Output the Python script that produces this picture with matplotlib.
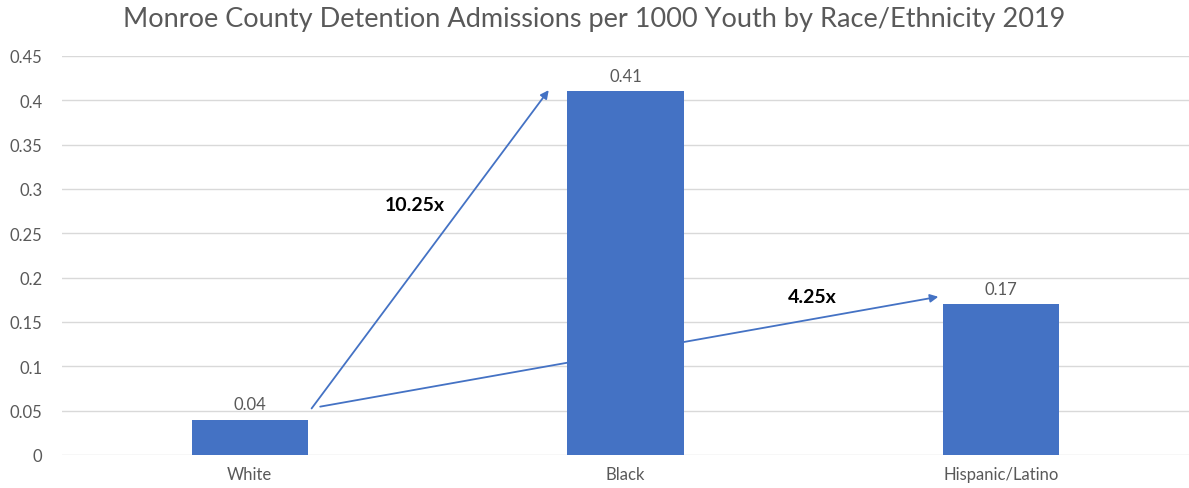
import matplotlib.pyplot as plt
import numpy as np

categories = ['White', 'Black', 'Hispanic/Latino']
values = [0.04, 0.41, 0.17]
yticks = [0, 0.05, 0.1, 0.15, 0.2, 0.25, 0.3, 0.35, 0.4, 0.45]
ytick_labels = ['0', '0.05', '0.1', '0.15', '0.2', '0.25', '0.3', '0.35', '0.4', '0.45']

plt.rcParams['font.family'] = ['Lato', 'DejaVu Sans']

bar_color = '#4472C4'
text_gray = '#595959'

fig = plt.figure(figsize=(11.89, 4.89), dpi=100)
ax = fig.add_axes([62 / 1189, 1 - 456 / 489, 1 - 62 / 1189, (456 - 57) / 489])

x = np.arange(len(categories))
bars = ax.bar(x, values, width=0.31, color=bar_color, zorder=3)

for xi, v in zip(x, values):
    ax.text(xi, v + 0.008, f'{v:g}', ha='center', va='bottom', fontsize=12, color=text_gray)

# ratio arrows (drawn behind the bars)
ax.annotate('', xy=(x[1] - 0.2, values[1] + 0.004), xytext=(x[0] + 0.16, values[0] + 0.010),
            arrowprops=dict(arrowstyle='-|>', color=bar_color, lw=1.3, mutation_scale=12), zorder=2)
ax.annotate('', xy=(x[2] - 0.16, values[2] + 0.009), xytext=(x[0] + 0.18, values[0] + 0.014),
            arrowprops=dict(arrowstyle='-|>', color=bar_color, lw=1.3, mutation_scale=12), zorder=2)
ax.text(0.44, 0.283, f'{values[1] / values[0]:.2f}x', ha='center', va='center',
        fontsize=14, fontweight='bold', color='black')
ax.text(1.496, 0.179, f'{values[2] / values[0]:.2f}x', ha='center', va='center',
        fontsize=14, fontweight='bold', color='black')

ax.set_xlim(-0.5, 2.5)
ax.set_ylim(0, 0.45)
ax.set_xticks(x)
ax.set_xticklabels(categories, fontsize=12, color=text_gray)
ax.set_yticks(yticks)
ax.set_yticklabels(ytick_labels, fontsize=12, color=text_gray)
ax.tick_params(axis='both', length=0, pad=8)
ax.tick_params(axis='y', pad=14)
ax.yaxis.grid(True, color='#D9D9D9', lw=1, zorder=0)
ax.set_axisbelow(True)
for s in ax.spines.values():
    s.set_visible(False)

fig.text(0.5, 1 - 20 / 489, 'Monroe County Detention Admissions per 1000 Youth by Race/Ethnicity 2019',
         ha='center', va='center', fontsize=19.5, color=text_gray)

fig.savefig('out.png', dpi=100)
